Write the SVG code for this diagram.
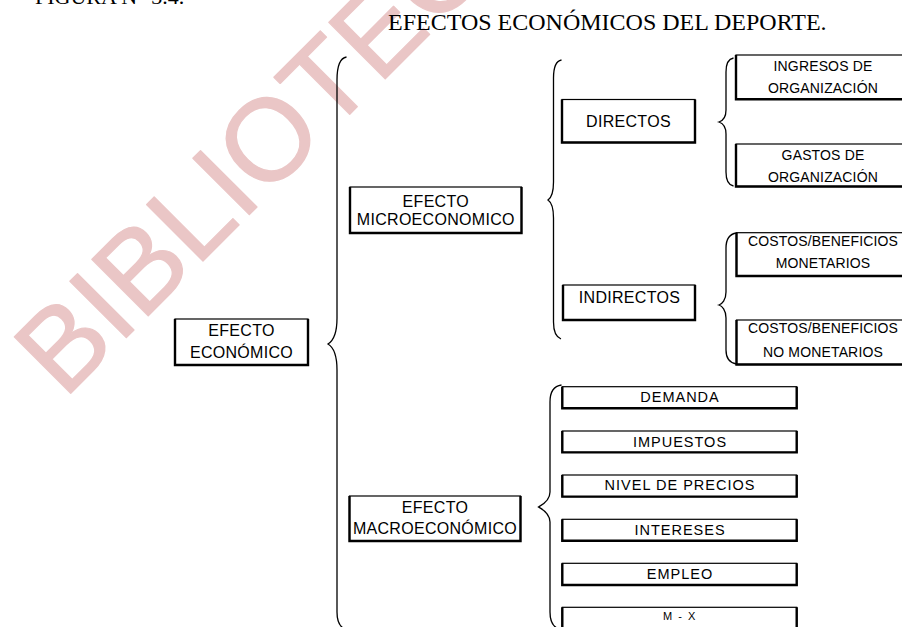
<svg xmlns="http://www.w3.org/2000/svg" width="902" height="627" viewBox="0 0 902 627">
<style>
.bg{fill:#fff}
.wm{font-family:"Liberation Sans",Arial,sans-serif;font-size:116px;fill:#eac6c6;stroke:#eac6c6;stroke-width:1.2;stroke-linejoin:round}
.title{font-family:"Liberation Serif","Times New Roman",serif;font-size:24px;fill:#000}
.fig{font-family:"Liberation Serif","Times New Roman",serif;font-size:22px;fill:#000}
.box{fill:#fff;stroke:#000;stroke-width:1.2}
.edge{fill:none;stroke:#000;stroke-width:2.4;stroke-linejoin:miter}
.brace{fill:none;stroke:#000;stroke-width:1.3}
.t16{font-family:"Liberation Sans",Arial,sans-serif;font-size:16px;letter-spacing:0.3px;text-anchor:middle;fill:#000}
.t14{font-family:"Liberation Sans",Arial,sans-serif;font-size:14px;letter-spacing:0.15px;text-anchor:middle;fill:#000}
.tl{font-family:"Liberation Sans",Arial,sans-serif;font-size:14.5px;letter-spacing:1px;text-anchor:middle;fill:#000}
.ts{font-family:"Liberation Sans",Arial,sans-serif;font-size:11px;letter-spacing:1.5px;text-anchor:middle;fill:#000}
</style>
<rect class="bg" x="0" y="0" width="902" height="627"/>
<text class="wm" transform="translate(64,400) rotate(-45)">BIBLIOTECA</text>
<text class="fig" x="35" y="3.5">FIGURA N° 3.4.</text>
<text class="title" x="388" y="30">EFECTOS ECONÓMICOS DEL DEPORTE.</text>

<g id="connectors">
<path class="brace" d="M346.5,57 C340.5,58 337,65 337,80 L337,318 C337,335 333,341 328,344 C333,347 337,353 337,370 L337,612 C337,622 340,627 345,629"/>
<path class="brace" d="M561.5,60 C556,61 553.5,67 553.5,78 L553.5,182 C553.5,194 551,198 548,200 C551,202 553.5,206 553.5,218 L553.5,322 C553.5,332 556,337 561,339"/>
<path class="brace" d="M733.5,58 C728,59 726,64 726,72 L726,110 C726,118 722,121 719,122 C722,123 726,126 726,134 L726,172 C726,180 728,185 733.5,186"/>
<path class="brace" d="M736.5,233 C730,234 726,239 726,248 L726,292 C726,300 722,304 719,305 C722,306 726,310 726,318 L726,350 C726,358 730,363 736.5,364"/>
<path class="brace" d="M561.5,385 C554,386 550,392 550,402 L550,492 C550,501 542,505 538.5,507 C542,509 550,513 550,522 L550,612 C550,621 553,626 557,628"/>
</g>

<g id="efecto-economico">
<rect class="box" x="175" y="319" width="133" height="46"/>
<path class="edge" d="M175,319 V365 H308 V319"/>
<text class="t16" x="241.5" y="336">EFECTO</text>
<text class="t16" x="241.5" y="358">ECONÓMICO</text>
</g>

<g id="efecto-micro">
<rect class="box" x="350" y="187" width="171.5" height="46"/>
<path class="edge" d="M350,187 V233 H521.5 V187"/>
<text class="t16" x="435.8" y="206.7">EFECTO</text>
<text class="t16" x="435.8" y="225">MICROECONOMICO</text>
</g>

<g id="efecto-macro">
<rect class="box" x="349.5" y="496" width="171" height="45"/>
<path class="edge" d="M349.5,496 V541 H520.5 V496"/>
<text class="t16" x="435" y="513.3">EFECTO</text>
<text class="t16" x="435" y="534.3">MACROECONÓMICO</text>
</g>

<g id="directos">
<rect class="box" x="562" y="99.5" width="133" height="43"/>
<path class="edge" d="M562,99.5 V142.5 H695 V99.5"/>
<text class="t16" x="628.5" y="126.7">DIRECTOS</text>
</g>

<g id="indirectos">
<rect class="box" x="563" y="285" width="132" height="35"/>
<path class="edge" d="M563,285 V320 H695 V285"/>
<text class="t16" x="629.5" y="303.3">INDIRECTOS</text>
</g>

<g id="ingresos">
<rect class="box" x="736" y="55" width="176" height="44.3"/>
<path class="edge" d="M736,55 V99.3 H912"/>
<text class="t14" x="823" y="70.7">INGRESOS DE</text>
<text class="t14" x="823" y="93.3">ORGANIZACIÓN</text>
</g>

<g id="gastos">
<rect class="box" x="736" y="144" width="176" height="42.5"/>
<path class="edge" d="M736,144 V186.5 H912"/>
<text class="t14" x="823" y="160">GASTOS DE</text>
<text class="t14" x="823" y="181.7">ORGANIZACIÓN</text>
</g>

<g id="monetarios">
<rect class="box" x="736.5" y="232.7" width="176" height="43.3"/>
<path class="edge" d="M736.5,232.7 V276 H912"/>
<text class="t14" x="823" y="246">COSTOS/BENEFICIOS</text>
<text class="t14" x="823" y="268.3">MONETARIOS</text>
</g>

<g id="no-monetarios">
<rect class="box" x="736.5" y="320" width="176" height="44.5"/>
<path class="edge" d="M736.5,320 V364.5 H912"/>
<text class="t14" x="823" y="332.7">COSTOS/BENEFICIOS</text>
<text class="t14" x="823" y="357.3">NO MONETARIOS</text>
</g>

<g id="demanda">
<rect class="box" x="562.3" y="386.7" width="234.4" height="21.6"/>
<path class="edge" d="M562.3,386.7 V408.3 H796.7 V386.7"/>
<text class="tl" x="680" y="402.3">DEMANDA</text>
</g>

<g id="impuestos">
<rect class="box" x="562.3" y="431" width="234.4" height="21.4"/>
<path class="edge" d="M562.3,431 V452.4 H796.7 V431"/>
<text class="tl" x="680" y="446.7">IMPUESTOS</text>
</g>

<g id="nivel-precios">
<rect class="box" x="562.3" y="475" width="234.4" height="21.6"/>
<path class="edge" d="M562.3,475 V496.6 H796.7 V475"/>
<text class="tl" x="680" y="490">NIVEL DE PRECIOS</text>
</g>

<g id="intereses">
<rect class="box" x="562.3" y="519.3" width="234.4" height="21.4"/>
<path class="edge" d="M562.3,519.3 V540.7 H796.7 V519.3"/>
<text class="tl" x="680" y="535">INTERESES</text>
</g>

<g id="empleo">
<rect class="box" x="562.3" y="563.3" width="234.4" height="21.7"/>
<path class="edge" d="M562.3,563.3 V585 H796.7 V563.3"/>
<text class="tl" x="680" y="579.3">EMPLEO</text>
</g>

<g id="m-x">
<rect class="box" x="562.3" y="607.3" width="234.4" height="22"/>
<path class="edge" d="M562.3,607.3 V629.3 H796.7 V607.3"/>
<text class="ts" x="680" y="620">M - X</text>
</g>
</svg>
